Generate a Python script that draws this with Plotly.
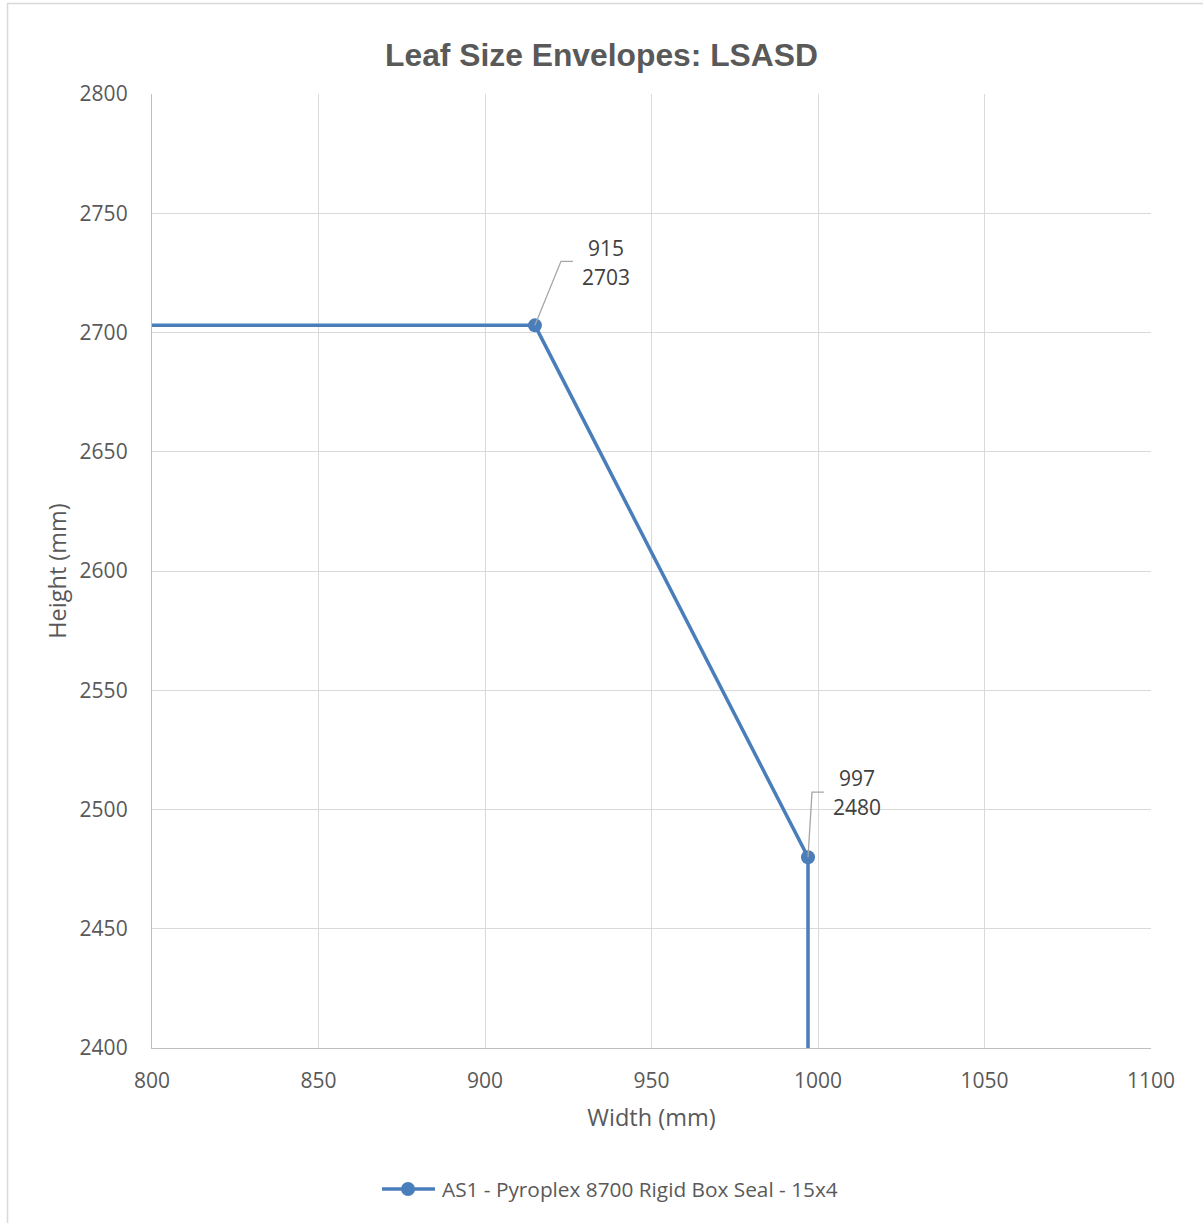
import plotly.graph_objects as go

# Envelope for the leaf size: width (mm) vs height (mm)
series_name = "AS1 - Pyroplex 8700 Rigid Box Seal - 15x4"
width_mm = [0, 915, 997, 997]
height_mm = [2703, 2703, 2480, 0]

# Points that carry a value label
label_idx = [1, 2]

x_ticks = [800, 850, 900, 950, 1000, 1050, 1100]
y_ticks = [2400, 2450, 2500, 2550, 2600, 2650, 2700, 2750, 2800]

LINE = "#4a7ebb"
GRID = "#d9d9d9"
TEXT = "#595959"
FONT = "Open Sans"

fig = go.Figure()
fig.add_trace(go.Scatter(
    x=width_mm, y=height_mm, mode="lines+markers", name=series_name,
    line=dict(color=LINE, width=3.5),
    marker=dict(color=LINE, size=14),
    showlegend=False,
))

# Data labels (two stacked lines) with elbow leader lines, offset in pixels
label_offsets = {1: (71, 77, 48, [(0, 0), (26, 64), (38, 64)]),
                 2: (49, 79, 50, [(0, 0), (4, 65), (16, 65)])}
for i in label_idx:
    dx, dy1, dy2, path = label_offsets[i]
    for txt, dy in ((width_mm[i], dy1), (height_mm[i], dy2)):
        fig.add_annotation(
            x=width_mm[i], y=height_mm[i], xref="x", yref="y",
            text=str(txt), showarrow=False,
            xshift=dx, yshift=dy, xanchor="center", yanchor="middle",
            font=dict(family=FONT, size=21, color="#404040"),
        )
    d = "M" + " L".join(f"{px},{py}" for px, py in path)
    fig.add_shape(
        type="path", path=d, xref="x", yref="y",
        xsizemode="pixel", ysizemode="pixel",
        xanchor=width_mm[i], yanchor=height_mm[i],
        line=dict(color="#a6a6a6", width=1.3),
    )

# Chart frame
fig.add_shape(type="rect", xref="paper", yref="paper",
              x0=-0.1446, x1=1.2, y0=-0.3, y1=1.0949,
              line=dict(color=GRID, width=1.5), layer="below")

# Legend entry below the axis title
leg_y = -0.1478
fig.add_shape(type="line", xref="paper", yref="paper",
              x0=0.2302, x1=0.2833, y0=leg_y, y1=leg_y,
              line=dict(color=LINE, width=3.5))
fig.add_shape(type="circle", xref="paper", yref="paper",
              xsizemode="pixel", ysizemode="pixel",
              xanchor=0.2563, yanchor=leg_y, x0=-7, x1=7, y0=-7, y1=7,
              fillcolor=LINE, line=dict(color=LINE, width=0))
fig.add_annotation(x=0.2883, y=leg_y, xref="paper", yref="paper",
                   text=series_name, showarrow=False,
                   xanchor="left", yanchor="middle",
                   font=dict(family=FONT, size=20.8, color=TEXT))

axis_common = dict(
    showgrid=True, gridcolor=GRID, gridwidth=1,
    showline=True, linecolor="#bfbfbf", linewidth=1.3, mirror=False,
    zeroline=False, ticks="", tickfont=dict(family=FONT, size=21, color=TEXT),
)

fig.update_layout(
    width=1203, height=1223,
    margin=dict(l=152, r=52, t=94, b=175),
    paper_bgcolor="white", plot_bgcolor="white",
    title=dict(text="<b>Leaf Size Envelopes: LSASD</b>", x=0.5, xanchor="center",
               y=1 - 55 / 1223, yanchor="middle",
               font=dict(family="Liberation Sans", size=31.8, color=TEXT)),
    xaxis=dict(range=[800, 1100], tickvals=x_ticks, ticklabelstandoff=14,
               title=dict(text="Width (mm)", standoff=16,
                          font=dict(family=FONT, size=23.5, color=TEXT)),
               **axis_common),
    yaxis=dict(range=[2400, 2800], tickvals=y_ticks, ticklabelstandoff=19,
               title=dict(text="Height (mm)", standoff=6,
                          font=dict(family=FONT, size=23.5, color=TEXT)),
               **axis_common),
    showlegend=False,
)

fig.write_html("out.html")
